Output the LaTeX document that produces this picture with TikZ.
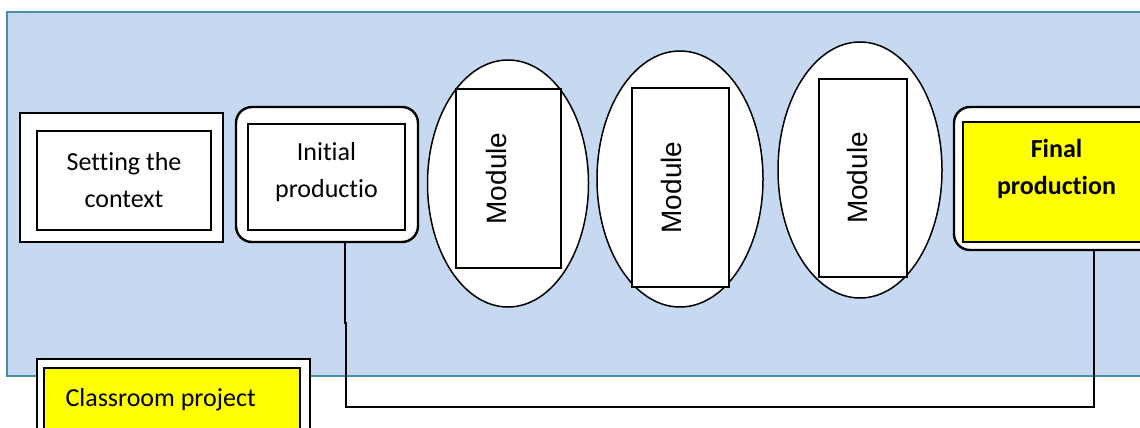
\documentclass[tikz,border=0pt]{standalone}
\usepackage{fontspec}
\setmainfont{Carlito}[Ligatures=CommonOff]
\newfontfamily\modfont{Liberation Sans}
\usetikzlibrary{shapes.geometric}
\definecolor{panel}{HTML}{C6D9F1}
\definecolor{panelline}{HTML}{4A8DAA}
\definecolor{hilite}{HTML}{FFFF00}

\begin{document}
\begin{tikzpicture}[x=1pt,y=-1pt,
	outerbox/.style={draw,fill=white,line width=2.4pt,inner sep=0pt,outer sep=0pt},
	innerbox/.style={draw,fill=white,line width=2pt,inner sep=0pt,outer sep=0pt},
	oval/.style={ellipse,draw,fill=white,line width=1.5pt,inner sep=0pt,outer sep=0pt},
	modbox/.style={draw,fill=white,line width=1.6pt,inner sep=0pt,outer sep=0pt},
	modtxt/.style={rotate=90,font=\modfont\fontsize{28}{32}\selectfont},
	txt/.style={font=\fontsize{26}{37}\selectfont,align=center},
	link/.style={draw,line width=2pt}]
	\useasboundingbox (0,0) rectangle (1140,428);

	%background panel
	\fill[panel] (7,12) rectangle (1160,376);
	\draw[panelline,line width=1.5pt] (1160,12) -- (7,12) -- (7,376) -- (1160,376);

	%first two boxes
	\node[outerbox,minimum width=203,minimum height=129] (ctxout) at (121.5,177.5) {};
	\node[innerbox,minimum width=174,minimum height=99] (ctxin) at (124,180.5) {};
	\node[txt] (ctxtxt) at (ctxin.center) {Setting the\\context};
	\node[outerbox,rounded corners=16pt,minimum width=182,minimum height=135] (initout) at (327,174.5) {};
	\node[innerbox,minimum width=157,minimum height=106] (initin) at (326.5,177) {};
	\node[txt] (inittxt) at ([yshift=5]initin.center) {Initial\\productio};

	%modules
	\node[oval,minimum width=161,minimum height=247] (modA) at (508,183.5) {};
	\node[modbox,minimum width=105,minimum height=179] (modAin) at (508.5,178.5) {};
	\node[modtxt] (modAtxt) at ([xshift=-12]modAin.center) {Module};
	\node[oval,minimum width=166,minimum height=256] (modB) at (680,179) {};
	\node[modbox,minimum width=97,minimum height=199] (modBin) at (680.5,187.5) {};
	\node[modtxt] (modBtxt) at ([xshift=-9]modBin.center) {Module};
	\node[oval,minimum width=164,minimum height=256] (modC) at (860,170) {};
	\node[modbox,minimum width=88,minimum height=198] (modCin) at (863,178) {};
	\node[modtxt] (modCtxt) at ([xshift=-6]modCin.center) {Module};

	%final box
	\node[outerbox,rounded corners=16pt,minimum width=206,minimum height=143] (finout) at (1057,178.5) {};
	\node[innerbox,fill=hilite,minimum width=187,minimum height=120] (finin) at (1056.5,182) {};
	\node[txt,font=\bfseries\fontsize{26}{37}\selectfont] (fintxt) at ([yshift=13.5]finin.center) {Final\\production};

	%project box
	\node[outerbox,minimum width=273,minimum height=86] (projout) at (173.5,402) {};
	\node[innerbox,fill=hilite,minimum width=256,minimum height=82] (projin) at (172,409) {};
	\node[txt,anchor=west] (projtxt) at (62,400) {Classroom project};

	%connector
	\draw[link] ([xshift=18]initout.south) -- ++(0,81) -- ++(1,0) -- ++(0,84) -| ([xshift=37]finout.south);
\end{tikzpicture}
\end{document}
